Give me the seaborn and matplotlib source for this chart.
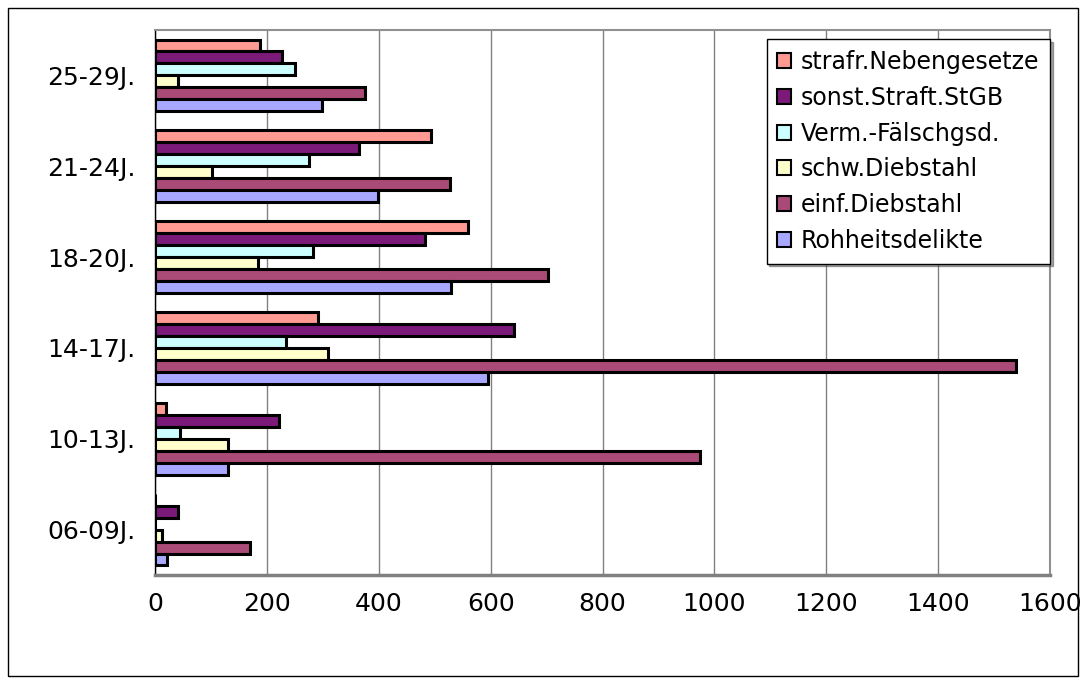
import seaborn as sns
import matplotlib.pyplot as plt
import matplotlib.patches as mpatches
from matplotlib.ticker import FixedLocator
import pandas as pd

# -------------------------
# Data
# -------------------------

ages = ["06-09J.", "10-13J.", "14-17J.", "18-20J.", "21-24J.", "25-29J."]

rohheit = [22, 131, 595, 530, 398, 298]
einf_diebstahl = [169, 974, 1540, 702, 528, 375]
schw_diebstahl = [12, 131, 310, 185, 102, 41]
verm_faelsch = [0, 44, 234, 282, 275, 250]
sonst_straft = [41, 221, 641, 483, 365, 227]
nebengesetze = [0, 20, 291, 559, 494, 188]

series = {
    "strafr.Nebengesetze": nebengesetze,
    "sonst.Straft.StGB": sonst_straft,
    "Verm.-Fälschgsd.": verm_faelsch,
    "schw.Diebstahl": schw_diebstahl,
    "einf.Diebstahl": einf_diebstahl,
    "Rohheitsdelikte": rohheit,
}
colors = ["#FF9A92", "#7B1A78", "#CCFFFF", "#FFFFCC", "#AA4A77", "#A8A8FF"]

rows = []
for name, vals in series.items():
    for age, v in zip(ages, vals):
        rows.append({"Alter": age, "Delikt": name, "Anzahl": v})
df = pd.DataFrame(rows)

# -------------------------
# Styling
# -------------------------

sns.set_style("white")
plt.rcParams["font.family"] = ["DejaVu Sans"]
plt.rcParams["text.color"] = "black"
plt.rcParams["xtick.color"] = "black"
plt.rcParams["ytick.color"] = "black"

fig = plt.figure(figsize=(10.85, 6.84), dpi=100)
ax = fig.add_axes([155 / 1085, 1 - 575 / 684, 895 / 1085, 545 / 684])

sns.barplot(
    data=df, x="Anzahl", y="Alter", hue="Delikt",
    order=ages[::-1], hue_order=list(series.keys()),
    palette=colors, orient="h", width=0.79, dodge=True,
    edgecolor="black", linewidth=2.2, saturation=1, ax=ax,
)

ax.set_xlim(0, 1600)
ax.set_ylim(5.5, -0.5)
ax.set_xticks(range(0, 1601, 200))
ax.set_xlabel("")
ax.set_ylabel("")

# gridlines
ax.grid(axis="x", color="#808080", linewidth=1)
ax.set_axisbelow(True)

# spines
for s in ["top", "right"]:
    ax.spines[s].set_color("#909090")
    ax.spines[s].set_linewidth(1.5)
ax.spines["bottom"].set_color("#808080")
ax.spines["bottom"].set_linewidth(2.5)
ax.spines["left"].set_color("black")
ax.spines["left"].set_linewidth(1)

# ticks
ax.tick_params(axis="x", length=7, width=1, color="black", labelsize=18, pad=5,
               direction="out", labelcolor="black")
ax.tick_params(axis="y", which="major", length=0, labelsize=18, pad=14, labelcolor="black")
ax.yaxis.set_minor_locator(FixedLocator([i - 0.5 for i in range(7)]))
ax.tick_params(axis="y", which="minor", length=7, width=1, color="black", direction="out")

# legend
handles, labels = ax.get_legend_handles_labels()
leg = ax.legend(
    handles, labels, loc="upper right", bbox_to_anchor=(1.0, 0.983),
    fontsize=17, frameon=True, fancybox=False, shadow=True,
    handlelength=0.6, handleheight=0.6, handletextpad=0.4,
    labelspacing=0.5, borderpad=0.45, borderaxespad=0,
)
leg.get_frame().set_edgecolor("black")
leg.get_frame().set_linewidth(1)
for h in leg.legend_handles:
    h.set_edgecolor("black")
    h.set_linewidth(1.5)

# outer frame
fig.patches.append(mpatches.Rectangle(
    (8 / 1085, 8 / 684), 1070 / 1085, 668 / 684,
    transform=fig.transFigure, fill=False, edgecolor="black", linewidth=1,
))

plt.savefig("out.png", dpi=100)
plt.close()
